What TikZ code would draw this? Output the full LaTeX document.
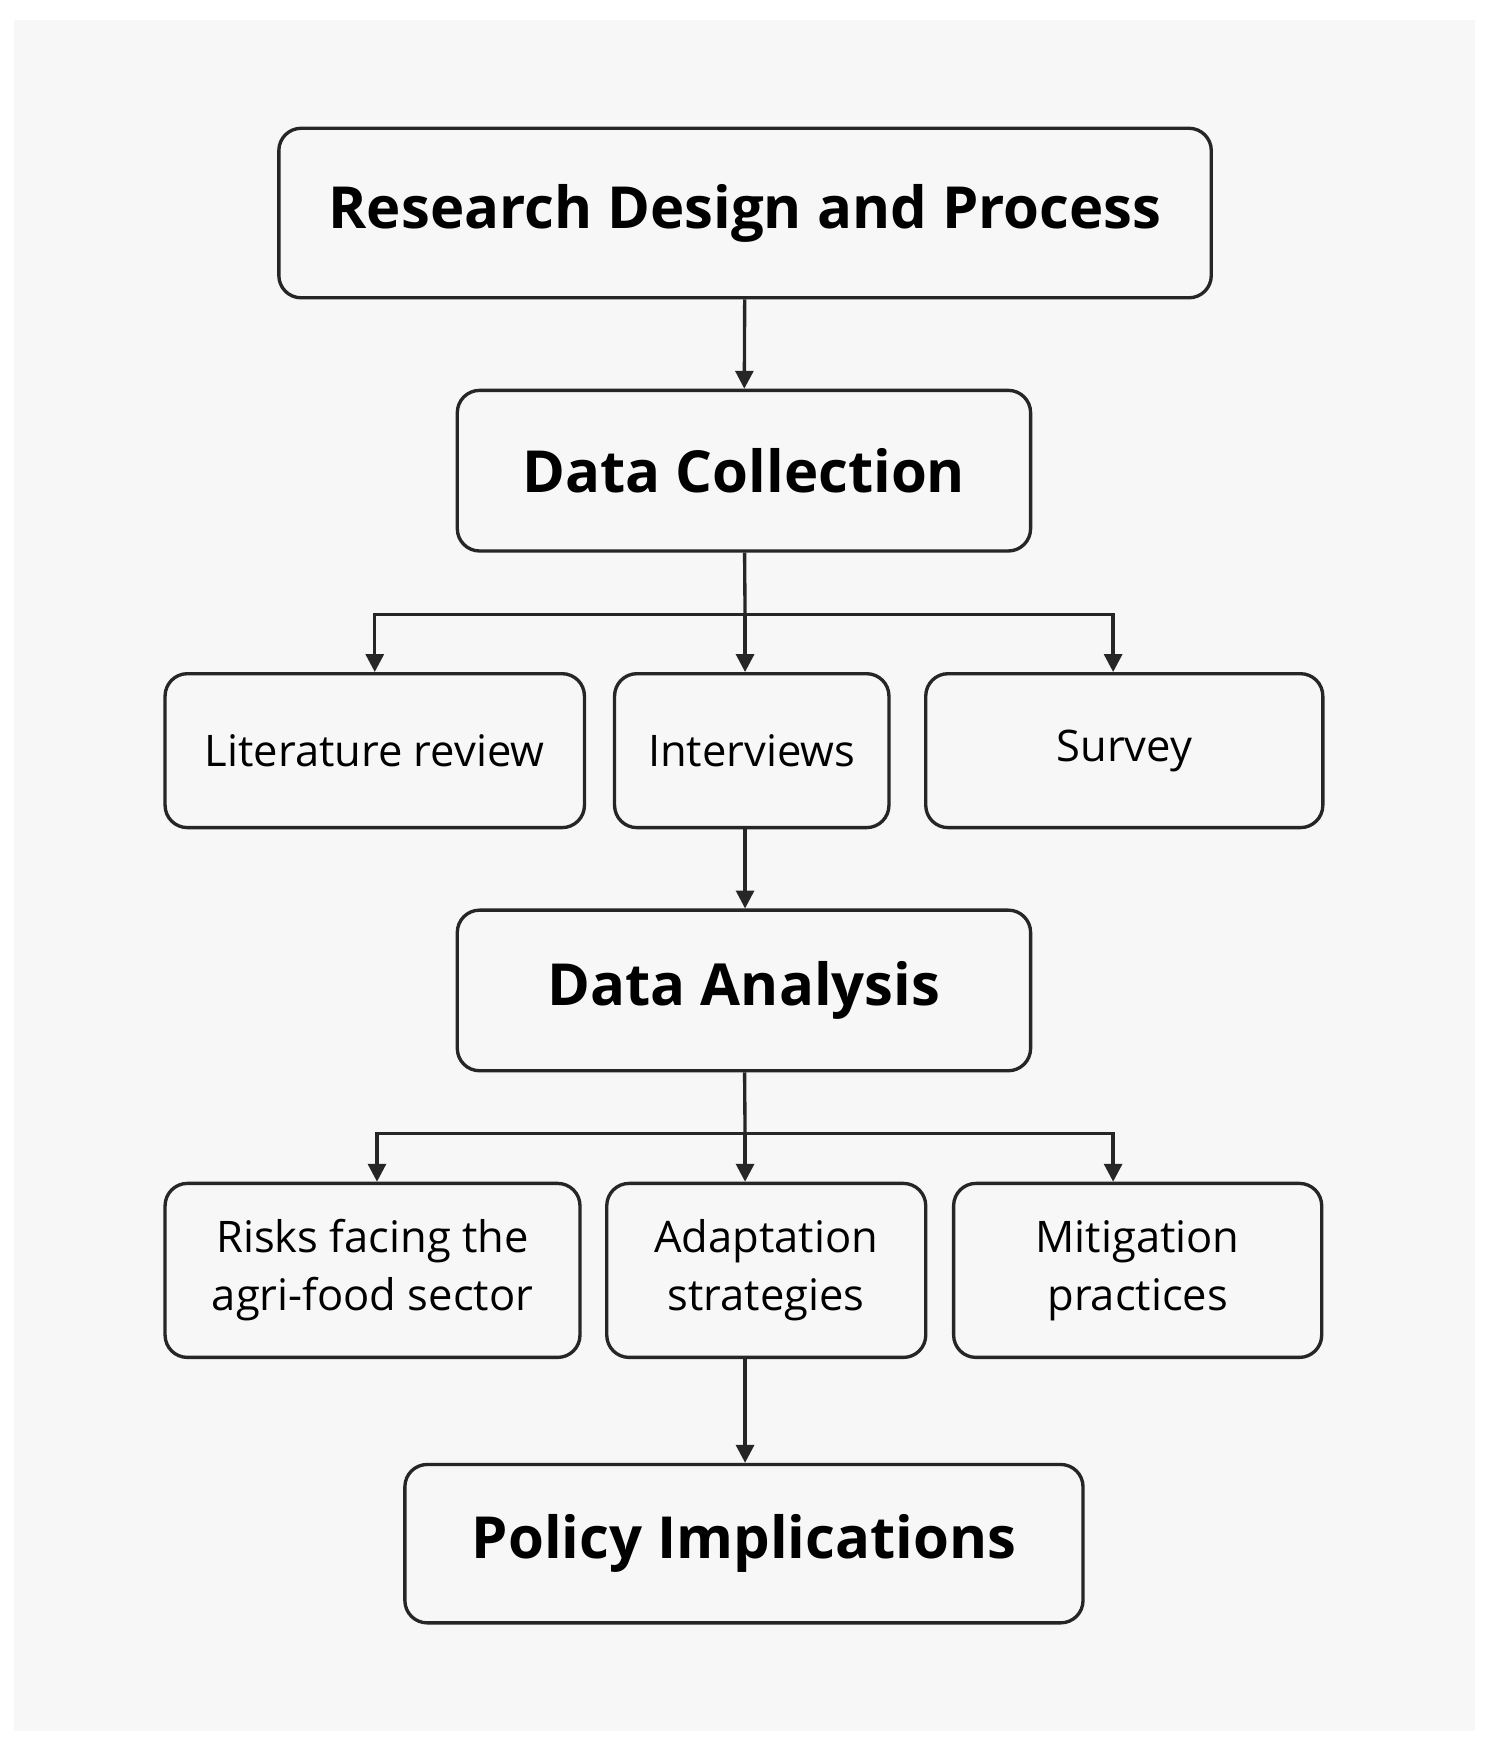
\documentclass[tikz,border=0pt]{standalone}
\usepackage{fontspec}
\setmainfont{Open Sans}
\usetikzlibrary{arrows.meta}

\tikzset{
	box/.style={draw=black!85, line width=1.5pt, rounded corners=10pt, fill=white!97!black, align=center, inner sep=0pt},
	big/.style={box, font=\fontsize{26}{30}\selectfont\bfseries},
	small/.style={box, font=\fontsize{19.5}{26}\selectfont},
	link/.style={draw=black!85, line width=1.5pt, -{Triangle[length=8pt,width=8pt]}}
}

\begin{document}
\begin{tikzpicture}[x=0.5pt, y=-0.5pt]
	\useasboundingbox (0,0) rectangle (1337,1569);
	\fill[white] (0,0) rectangle (1337,1569);
	\fill[white!97!black] (13,18) rectangle (1322,1552);
	% top level
	\node[big, minimum width=418pt, minimum height=76pt] (rd) at (668,191) {Research Design and Process};
	\node[big, minimum width=257pt, minimum height=72pt] (dc) at (667,422) {Data Collection};
	% collection methods
	\node[small, minimum width=188pt, minimum height=69pt] (lit) at (336,673) {Literature review};
	\node[small, minimum width=123pt, minimum height=69pt] (int) at (674,673) {Interviews};
	\node[small, minimum width=178pt, minimum height=69pt] (sur) at (1008,673) {Survey};
	\node[big, minimum width=257pt, minimum height=72pt] (da) at (667,888) {Data Analysis};
	% analysis themes
	\node[small, minimum width=186pt, minimum height=78pt] (risk) at (334,1139) {Risks facing the\\agri-food sector};
	\node[small, minimum width=143pt, minimum height=78pt] (adap) at (687,1139) {Adaptation\\strategies};
	\node[small, minimum width=165pt, minimum height=78pt] (miti) at (1020,1139) {Mitigation\\practices};
	\node[big, minimum width=304pt, minimum height=71pt] (pol) at (667,1384) {Policy Implications};
	% connectors
	\coordinate (s1) at (668,551);
	\coordinate (s2) at (668,1016);
	\draw[link] (rd) -- (dc);
	\draw[line width=1.5pt, draw=black!85] (dc) -- (s1);
	\draw[link] (s1) -| (lit.north);
	\draw[link] (s1) -- (s1 |- int.north);
	\draw[link] (s1) -| ([xshift=-5pt]sur.north);
	\draw[link] (int.south -| s1) -- (da.north -| s1);
	\draw[line width=1.5pt, draw=black!85] (da) -- (s2);
	\draw[link] (s2) -| ([xshift=2pt]risk.north);
	\draw[link] (s2) -- (s2 |- adap.north);
	\draw[link] (s2) -| ([xshift=-11pt]miti.north);
	\draw[link] (adap.south -| s2) -- (pol.north -| s2);
\end{tikzpicture}
\end{document}
